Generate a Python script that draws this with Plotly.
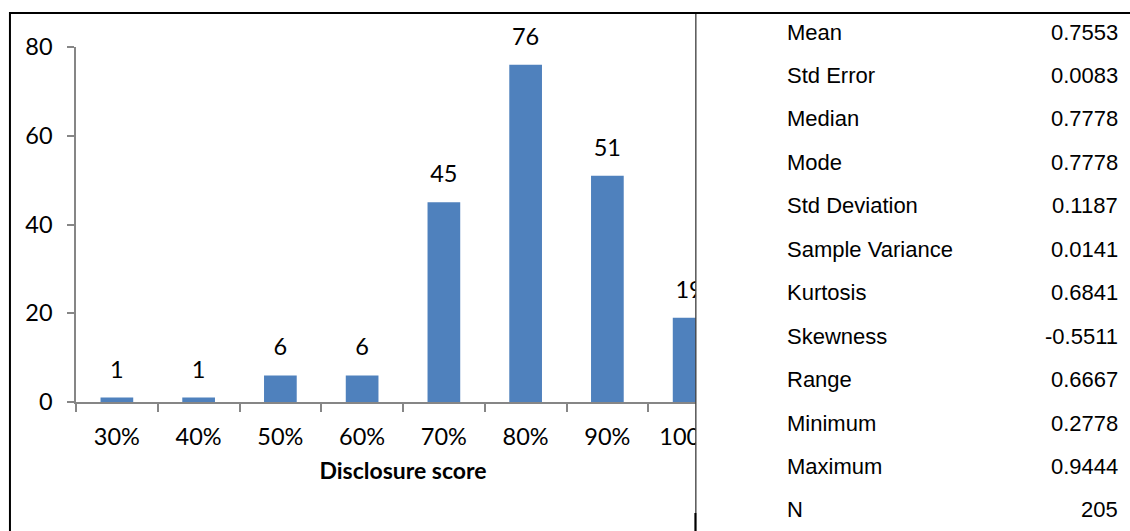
import plotly.graph_objects as go

# Histogram of disclosure scores
score_bins = ["30%", "40%", "50%", "60%", "70%", "80%", "90%", "100%"]
frequency = [1, 1, 6, 6, 45, 76, 51, 19]
y_ticks = [0, 20, 40, 60, 80]

# Descriptive statistics shown beside the chart
stat_names = ["Mean", "Std Error", "Median", "Mode", "Std Deviation",
              "Sample Variance", "Kurtosis", "Skewness", "Range",
              "Minimum", "Maximum", "N"]
stat_values = ["0.7553", "0.0083", "0.7778", "0.7778", "0.1187", "0.0141",
               "0.6841", "-0.5511", "0.6667", "0.2778", "0.9444", "205"]

W, H = 1130, 531
L, T, B = 76, 47, 129
PLOT_W = 653.6
R = W - L - PLOT_W
PLOT_H = H - T - B

BAR_BLUE = "#4F81BD"
AXIS_GREY = "#868686"
CHART_FONT = "Lato"
TABLE_FONT = "Liberation Sans, Arial, sans-serif"
CHART_SIZE = 23.5
TABLE_SIZE = 22


def px_x(px):
    return (px - L) / PLOT_W


def px_y(py):
    return (H - B - py) / PLOT_H


fig = go.Figure()

fig.add_trace(go.Bar(
    x=score_bins, y=frequency,
    marker=dict(color=BAR_BLUE, line=dict(width=0)),
    hoverinfo="skip",
))

# Count labels floating above each bar
fig.add_trace(go.Scatter(
    x=score_bins, y=frequency,
    mode="markers+text",
    text=[str(v) for v in frequency],
    textposition="top center",
    textfont=dict(family=CHART_FONT, size=CHART_SIZE, color="#000000"),
    marker=dict(size=21, color="rgba(0,0,0,0)"),
    cliponaxis=False,
    hoverinfo="skip",
))

shapes = [
    # blank panel holding the statistics table (crops the last bar)
    dict(type="rect", xref="paper", yref="paper", layer="above",
         x0=px_x(695), x1=px_x(W + 5), y0=px_y(H + 5), y1=px_y(-5),
         fillcolor="white", line=dict(width=0)),
    # frame lines
    dict(type="line", xref="paper", yref="paper", layer="above",
         x0=px_x(10), x1=px_x(W + 5), y0=px_y(13), y1=px_y(13),
         line=dict(color="black", width=2)),
    dict(type="line", xref="paper", yref="paper", layer="above",
         x0=px_x(10), x1=px_x(10), y0=px_y(12), y1=px_y(H + 5),
         line=dict(color="black", width=2)),
    dict(type="line", xref="paper", yref="paper", layer="above",
         x0=px_x(695.5), x1=px_x(695.5), y0=px_y(13), y1=px_y(H + 5),
         line=dict(color="black", width=1)),
    dict(type="line", xref="paper", yref="paper", layer="above",
         x0=px_x(695), x1=px_x(695), y0=px_y(513), y1=px_y(H + 5),
         line=dict(color="black", width=2)),
]

annotations = []
row_y0, row_step = 32, 43.45
for i, (name, val) in enumerate(zip(stat_names, stat_values)):
    y = px_y(row_y0 + i * row_step)
    annotations.append(dict(
        xref="paper", yref="paper", x=px_x(785), y=y,
        xanchor="left", yanchor="middle", showarrow=False, text=name,
        font=dict(family=TABLE_FONT, size=TABLE_SIZE, color="#000000")))
    annotations.append(dict(
        xref="paper", yref="paper", x=px_x(1119), y=y,
        xanchor="right", yanchor="middle", showarrow=False, text=val,
        font=dict(family=TABLE_FONT, size=TABLE_SIZE, color="#000000")))

fig.update_layout(
    width=W, height=H,
    margin=dict(l=L, r=R, t=T, b=B, pad=0),
    paper_bgcolor="white", plot_bgcolor="white",
    showlegend=False,
    bargap=0.6,
    shapes=shapes,
    annotations=annotations,
    font=dict(family=CHART_FONT, size=CHART_SIZE, color="#000000"),
    xaxis=dict(
        type="category", range=[-0.5, 7.5],
        showline=True, linecolor=AXIS_GREY, linewidth=1.5,
        ticks="outside", tickson="boundaries", ticklen=8,
        tickcolor=AXIS_GREY, tickwidth=1.5,
        showgrid=False, zeroline=False,
        tickfont=dict(family=CHART_FONT, size=CHART_SIZE, color="#000000"),
        ticklabelstandoff=13,
        title=dict(text="<b>Disclosure score</b>", standoff=14,
                   font=dict(family=CHART_FONT, size=23, color="#000000")),
        fixedrange=True,
    ),
    yaxis=dict(
        range=[0, 80], tickvals=y_ticks,
        showline=True, linecolor=AXIS_GREY, linewidth=1.5,
        ticks="outside", ticklen=7, tickcolor=AXIS_GREY, tickwidth=1.5,
        showgrid=False, zeroline=False,
        tickfont=dict(family=CHART_FONT, size=CHART_SIZE, color="#000000"),
        ticklabelstandoff=10,
        fixedrange=True,
    ),
)

fig.write_html("out.html")
